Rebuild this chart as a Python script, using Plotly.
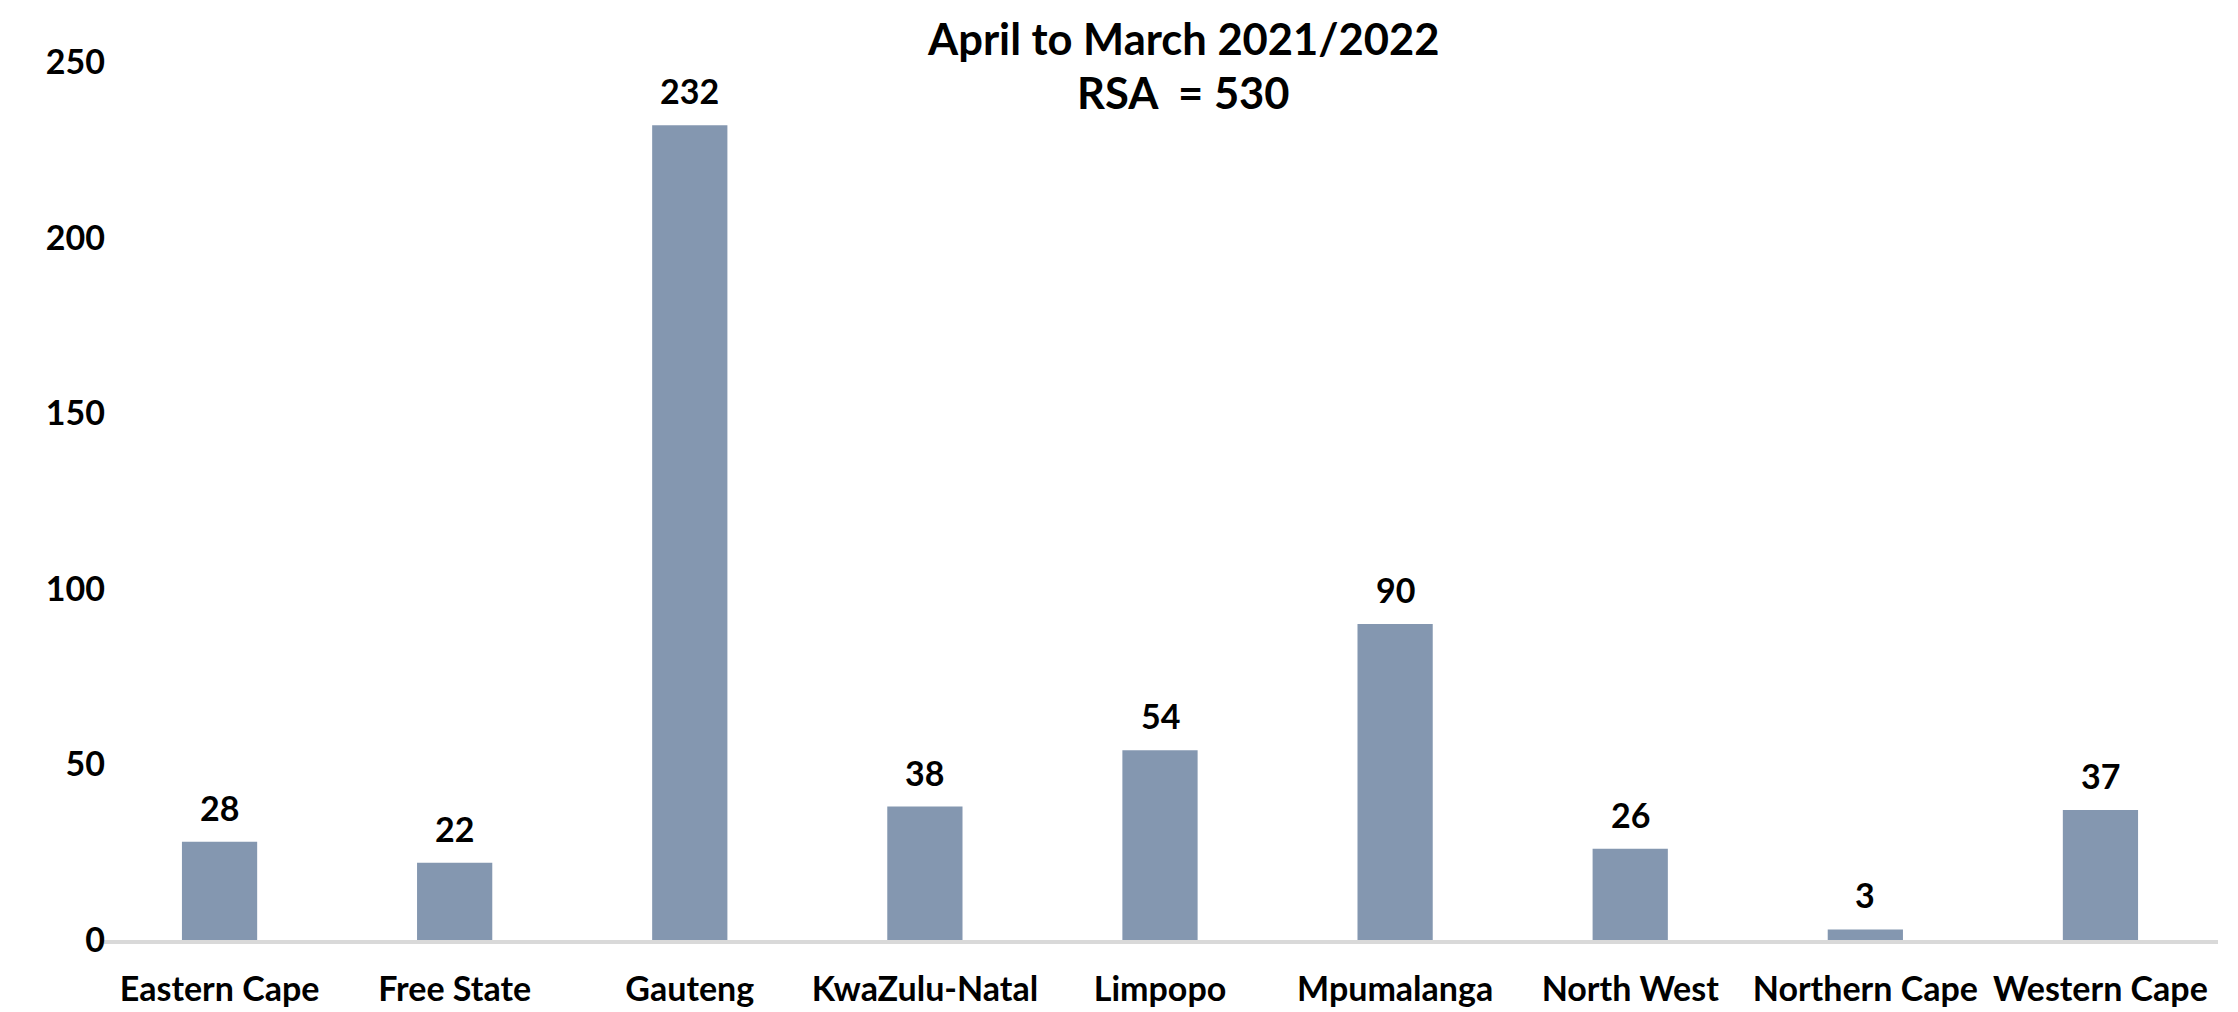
import plotly.graph_objects as go

provinces = ["Eastern Cape", "Free State", "Gauteng", "KwaZulu-Natal", "Limpopo",
             "Mpumalanga", "North West", "Northern Cape", "Western Cape"]
counts = [28, 22, 232, 38, 54, 90, 26, 3, 37]
y_ticks = [0, 50, 100, 150, 200, 250]
title_line1 = "April to March 2021/2022"
title_line2 = "RSA  = 530"

FONT = "Lato, Carlito, Calibri, sans-serif"
BAR_COLOR = "#8497B0"

W, H = 2238, 1012
ML, MR, MT, MB = 94, 28, 54, 60
plot_h = H - MT - MB
plot_w = W - ML - MR

fig = go.Figure()
fig.add_trace(go.Bar(x=provinces, y=counts, marker=dict(color=BAR_COLOR, line=dict(width=0)),
                     hoverinfo="x+y"))

for p, v in zip(provinces, counts):
    fig.add_annotation(x=p, y=v, text=f"<b>{v}</b>", showarrow=False, yanchor="bottom",
                       yshift=12, font=dict(family=FONT, size=34, color="black"))

# two-line title placed as paper annotations
title_x = (1175 - ML) / plot_w
for txt, ypx in [(title_line1, 29), (title_line2, 85)]:
    fig.add_annotation(xref="paper", yref="paper", x=title_x, y=(H - MB - ypx) / plot_h,
                       xanchor="center", yanchor="middle", showarrow=False, borderpad=0,
                       text=f"<b>{txt}</b>", font=dict(family=FONT, size=43.5, color="black"))

fig.update_layout(
    width=W, height=H,
    margin=dict(l=ML, r=MR, t=MT, b=MB),
    paper_bgcolor="white", plot_bgcolor="white",
    bargap=0.68,
    showlegend=False,
    font=dict(family=FONT, color="black"),
)
fig.update_xaxes(showline=True, linecolor="#D9D9D9", linewidth=4, showgrid=False, ticks="",
                 tickfont=dict(family=FONT, size=34, color="black", weight="bold"),
                 ticklabelstandoff=16)
fig.update_yaxes(range=[0, 250], tickvals=y_ticks, showgrid=False, zeroline=False, showline=False,
                 ticks="", tickfont=dict(family=FONT, size=34, color="black", weight="bold"),
                 ticklabelstandoff=-4)

fig.write_html("out.html")
